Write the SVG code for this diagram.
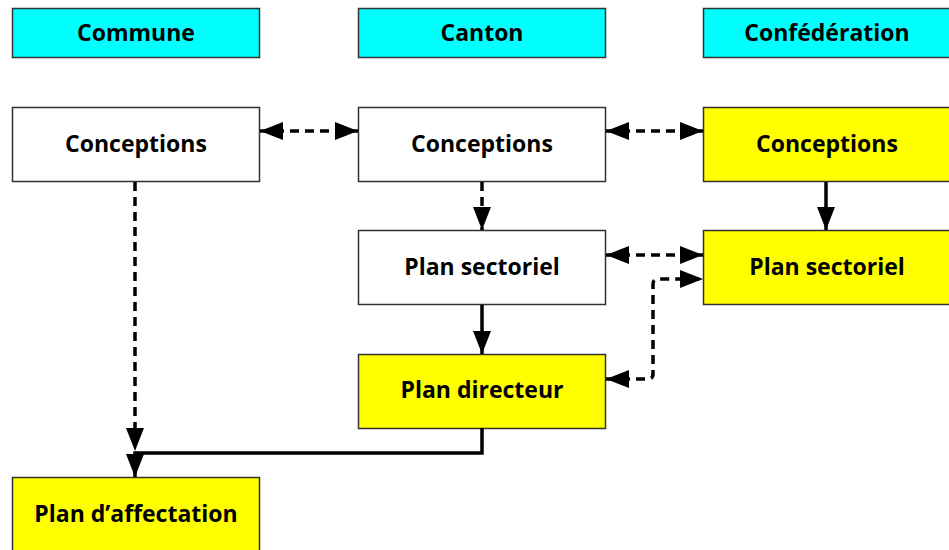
<svg xmlns="http://www.w3.org/2000/svg" width="949" height="550" viewBox="0 0 949 550">
<style>
.box{stroke:#333;stroke-width:1.5}
.hdr{fill:#00ffff}
.wht{fill:#fff}
.yel{fill:#ffff00}
text{font-family:"Open Sans","DejaVu Sans",sans-serif;font-weight:bold;font-size:23px;text-anchor:middle;fill:#000}
.c{fill:none;stroke:#000;stroke-width:3.5}
.d{stroke-dasharray:9,6}
</style>
<defs>
<marker id="ah" markerUnits="userSpaceOnUse" markerWidth="26" markerHeight="20" refX="23" refY="9" orient="auto-start-reverse" viewBox="0 0 26 20">
<path d="M0,0 L23,9 L0,18 z" fill="#000"/>
</marker>
</defs>
<g id="h-commune"><rect class="box hdr" x="12.5" y="8.5" width="247" height="49"/><text x="136" y="41">Commune</text></g>
<g id="h-canton"><rect class="box hdr" x="358.5" y="8.5" width="247" height="49"/><text x="482" y="41">Canton</text></g>
<g id="h-conf"><rect class="box hdr" x="703.5" y="8.5" width="247" height="49"/><text x="827" y="41">Confédération</text></g>
<g id="commune-conceptions"><rect class="box wht" x="12.5" y="107.5" width="247" height="74"/><text x="136" y="152">Conceptions</text></g>
<g id="canton-conceptions"><rect class="box wht" x="358.5" y="107.5" width="247" height="74"/><text x="482" y="152">Conceptions</text></g>
<g id="conf-conceptions"><rect class="box yel" x="703.5" y="107.5" width="247" height="74"/><text x="827" y="152">Conceptions</text></g>
<g id="canton-plan-sectoriel"><rect class="box wht" x="358.5" y="230.5" width="247" height="74"/><text x="482" y="275">Plan sectoriel</text></g>
<g id="conf-plan-sectoriel"><rect class="box yel" x="703.5" y="230.5" width="247" height="74"/><text x="827" y="275">Plan sectoriel</text></g>
<g id="plan-directeur"><rect class="box yel" x="358.5" y="354.5" width="247" height="74"/><text x="482" y="398">Plan directeur</text></g>
<g id="plan-affectation"><rect class="box yel" x="12.5" y="477.5" width="247" height="74"/><text x="136" y="522">Plan d’affectation</text></g>
<g id="connectors">
<path class="c d" d="M260,131 H358" marker-start="url(#ah)" marker-end="url(#ah)"/>
<path class="c d" d="M606,131 H703" marker-start="url(#ah)" marker-end="url(#ah)"/>
<path class="c d" d="M482,182 V230" marker-end="url(#ah)"/>
<path class="c" d="M826,182 V230" marker-end="url(#ah)"/>
<path class="c d" d="M606,255 H703" marker-start="url(#ah)" marker-end="url(#ah)"/>
<path class="c d" d="M606,379 H648 Q653,379 653,374 V284 Q653,279 658,279 H703" marker-start="url(#ah)" marker-end="url(#ah)"/>
<path class="c" d="M482,305 V354" marker-end="url(#ah)"/>
<path class="c d" d="M135,182 V451" marker-end="url(#ah)"/>
<path class="c" d="M482,428 V453 H135 V477" marker-end="url(#ah)"/>
</g>
</svg>
